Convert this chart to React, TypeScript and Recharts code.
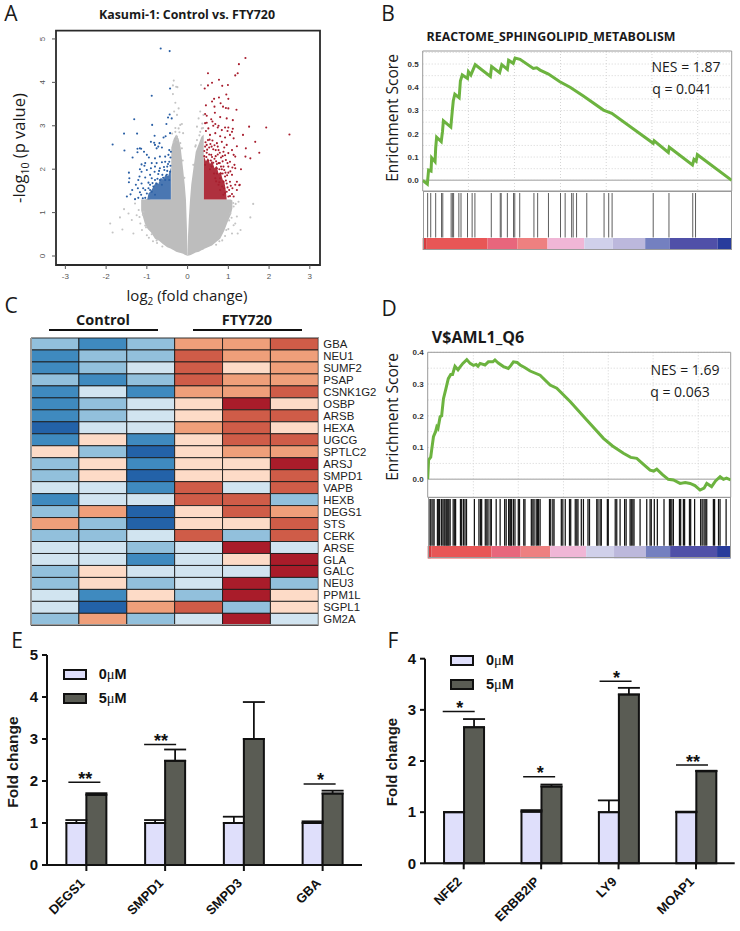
import React from 'react';
import {
  Area, Bar, BarChart, CartesianGrid, Cell, ComposedChart, ErrorBar, Legend, Line, LineChart,
  ReferenceArea, ReferenceLine, Scatter, XAxis, YAxis,
} from 'recharts';

const SANS = '"Liberation Sans", Arial, sans-serif';
const OPEN = '"Open Sans", "Noto Sans", sans-serif';

// A: volcano. dense cloud is read as envelopes [x, low, high], sparse points as [x, y]
const grayLeft = [
  [-1.14, 1.05, 1.3], [-1.05, 0.75, 1.3], [-0.98, 0.62, 1.32], [-0.9, 0.55, 1.3], [-0.8, 0.4, 1.3],
  [-0.7, 0.35, 1.3], [-0.6, 0.27, 1.3], [-0.5, 0.2, 1.3], [-0.405, 0.17, 1.3], [-0.4, 0.16, 2.5],
  [-0.34, 0.13, 2.7], [-0.28, 0.1, 2.8], [-0.22, 0.08, 2.7], [-0.17, 0.07, 2.5], [-0.11, 0.05, 2.0],
  [-0.07, 0.03, 1.65], [-0.04, 0.02, 1.3], [-0.02, 0.01, 0.75], [-0.012, 0.005, 0.5], [0, 0, 0.02],
];
const grayRight = [
  [0, 0, 0.02], [0.012, 0.005, 0.5], [0.03, 0.01, 0.85], [0.06, 0.02, 1.3], [0.09, 0.03, 1.65],
  [0.14, 0.05, 2.0], [0.2, 0.08, 2.4], [0.28, 0.1, 2.6], [0.34, 0.13, 2.75], [0.395, 0.15, 2.8],
  [0.4, 0.16, 1.3], [0.5, 0.2, 1.3], [0.6, 0.24, 1.3], [0.7, 0.32, 1.3], [0.8, 0.4, 1.3],
  [0.9, 0.58, 1.3], [0.98, 0.78, 1.3], [1.06, 0.95, 1.3], [1.1, 1.1, 1.28],
];
const redDense = [
  [0.4, 1.3, 2.3], [0.45, 1.3, 2.18], [0.5, 1.3, 2.26], [0.55, 1.3, 2.12], [0.6, 1.3, 2.2], [0.66, 1.3, 2.02], [0.71, 1.3, 2.08],
  [0.76, 1.3, 1.9], [0.81, 1.3, 1.94], [0.86, 1.3, 1.76], [0.9, 1.3, 1.72], [0.94, 1.3, 1.5], [0.96, 1.3, 1.3],
];
const blueDense = [
  [-0.99, 1.3, 1.3], [-0.96, 1.3, 1.44], [-0.9, 1.3, 1.5], [-0.85, 1.3, 1.58], [-0.78, 1.3, 1.7], [-0.72, 1.3, 1.66], [-0.66, 1.3, 1.8],
  [-0.6, 1.3, 1.76], [-0.54, 1.3, 1.88], [-0.48, 1.3, 1.84], [-0.41, 1.3, 2.04],
];
const grayPoints = [
  [-0.34, 4.04], [-0.28, 3.9], [-0.36, 3.93], [-0.25, 3.89], [-0.36, 3.73], [-0.3, 3.53], [-0.22, 3.4], [-0.33, 3.33],
  [-0.26, 3.25], [-0.18, 3.02], [-0.14, 3.04], [-0.22, 2.94], [-0.3, 2.86], [-0.11, 2.83], [-0.26, 2.67], [-0.34, 2.63],
  [-0.18, 2.6], [-0.14, 2.48], [-0.26, 2.75], [0.33, 3.94], [0.31, 3.33], [0.39, 3.25], [0.23, 2.98], [0.31, 2.86],
  [0.35, 2.94], [0.27, 3.17], [0.23, 2.67], [0.19, 2.52], [0.36, 3.05], [-1.9, 0.75], [-1.84, 0.54], [-1.66, 0.89],
  [-1.56, 1.08], [-1.6, 0.61], [-1.45, 0.98], [-1.37, 0.83], [-1.33, 0.52], [-1.25, 0.94], [-1.16, 0.75], [-1.12, 0.6],
  [-1.2, 1.06], [-1.08, 1.02], [-1.0, 0.48], [-1.04, 0.7], [-1.29, 1.21], [-0.95, 0.42], [-0.85, 0.34], [-1.18, 0.9],
  [1.61, 1.2], [1.54, 0.89], [1.25, 1.25], [1.13, 1.14], [1.21, 0.91], [1.3, 0.6], [1.17, 0.75], [1.09, 0.52], [1.23, 0.52],
  [1.05, 0.98], [1.13, 0.71], [0.92, 0.46], [1.0, 0.62], [1.18, 1.2], [0.85, 0.36], [-0.75, 0.3], [0.7, 0.26], [-0.62, 0.22],
  [-0.3, 2.95], [-0.38, 2.82], [-0.2, 2.85], [-0.12, 2.2], [-0.08, 1.8], [-1.1, 0.95], [-1.02, 0.66], [-0.88, 0.5], [-0.76, 0.36],
  [0.14, 2.1], [0.2, 2.55], [0.38, 2.95], [0.29, 2.78], [1.02, 0.82], [1.08, 0.88], [0.95, 0.6], [0.78, 0.34], [1.12, 1.22],
];
const bluePoints = [
  [-0.66, 4.78], [-0.44, 4.72], [-0.43, 3.86], [-0.88, 3.69], [-1.31, 3.15], [-1.56, 2.82], [-1.24, 2.82], [-0.87, 3.02],
  [-1.84, 2.57], [-1.55, 2.43], [-0.44, 3.26], [-0.48, 3.19], [-0.52, 3.04], [-0.39, 3.17], [-0.43, 2.83], [-0.54, 2.76],
  [-0.59, 2.73], [-0.81, 2.77], [-1.17, 2.48], [-1.23, 2.47], [-1.14, 2.47], [-1.35, 2.27], [-1.23, 2.39], [-1.07, 2.4],
  [-1.0, 2.33], [-0.95, 2.27], [-0.76, 2.48], [-0.72, 2.52], [-0.8, 2.56], [-0.9, 2.63], [-0.82, 2.61], [-0.69, 2.6],
  [-0.63, 2.5], [-0.45, 2.44], [-0.41, 2.4], [-0.47, 2.33], [-0.55, 2.29], [-0.42, 2.27], [-0.68, 2.29], [-0.8, 2.25],
  [-0.76, 2.14], [-0.88, 2.14], [-1.04, 2.14], [-1.13, 2.11], [-1.17, 2.0], [-1.06, 2.08], [-0.55, 2.17], [-0.45, 2.17],
  [-0.63, 2.16], [-0.5, 2.06], [-0.42, 2.08], [-0.57, 1.98], [-0.68, 2.02], [-0.8, 2.06], [-0.9, 2.02], [-1.0, 1.98],
  [-1.13, 1.94], [-1.18, 1.83], [-1.44, 1.92], [-1.43, 1.79], [-1.44, 1.7], [-1.21, 1.75], [-1.27, 1.64], [-1.36, 1.52],
  [-1.22, 1.56], [-1.13, 1.67], [-1.04, 1.81], [-0.92, 1.87], [-0.81, 1.94], [-0.72, 1.89], [-0.62, 1.87], [-0.51, 1.87],
  [-0.43, 1.94], [-0.96, 1.69], [-1.09, 1.56], [-1.17, 1.47], [-1.4, 1.42], [-1.49, 1.37], [-1.29, 1.31], [-1.21, 1.34],
  [-1.0, 1.44], [-1.04, 1.34], [-0.88, 1.79], [-0.8, 1.75], [-0.68, 1.75], [-0.55, 1.75], [-0.45, 1.75], [-0.92, 1.64],
  [-0.84, 1.6], [-0.76, 1.67], [-0.63, 1.64], [-0.96, 1.56], [-0.88, 1.48], [-0.8, 1.41], [-1.04, 1.52], [-1.14, 1.41],
  [-0.74, 1.78], [-0.6, 1.8], [-0.5, 1.96], [-0.58, 2.05], [-0.86, 1.68], [-0.92, 1.52], [-1.1, 1.33], [-0.7, 1.96], [-0.48, 2.12],
];
const redPoints = [
  [1.42, 4.56], [1.26, 4.42], [1.23, 4.21], [1.17, 4.16], [0.5, 4.21], [0.77, 4.06], [0.6, 3.99], [0.5, 3.93], [0.42, 3.86],
  [0.85, 3.92], [0.99, 3.94], [0.95, 3.72], [1.0, 3.62], [0.77, 3.65], [0.65, 3.62], [0.6, 3.56], [0.81, 3.52], [0.45, 3.47],
  [0.66, 3.44], [0.87, 3.44], [0.94, 3.41], [1.0, 3.4], [1.2, 3.37], [0.67, 3.3], [0.43, 3.27], [0.47, 3.23], [0.8, 3.2],
  [0.96, 3.17], [1.11, 3.13], [0.58, 3.15], [0.61, 3.1], [0.47, 3.07], [0.43, 3.06], [0.68, 3.04], [0.76, 3.0], [0.92, 2.96],
  [1.11, 2.93], [0.98, 2.88], [1.51, 2.98], [1.93, 2.96], [2.5, 2.8], [1.36, 2.79], [1.66, 2.63], [1.76, 2.38], [1.43, 2.48],
  [1.42, 2.29], [1.54, 2.25], [1.31, 2.0], [1.27, 1.63], [0.51, 2.94], [0.63, 3.0], [0.74, 2.96], [0.84, 2.9], [1.0, 2.96],
  [1.09, 2.86], [0.45, 2.88], [0.55, 2.79], [0.68, 2.83], [0.8, 2.76], [0.92, 2.73], [1.04, 2.79], [1.13, 2.71], [0.5, 2.67],
  [0.61, 2.66], [0.72, 2.6], [0.84, 2.63], [0.96, 2.56], [1.21, 2.53], [1.09, 2.44], [0.43, 2.52], [0.53, 2.5], [0.63, 2.46],
  [0.76, 2.44], [0.88, 2.4], [1.0, 2.37], [1.13, 2.33], [1.17, 2.29], [0.47, 2.38], [0.58, 2.33], [0.69, 2.3], [0.82, 2.27],
  [0.94, 2.21], [1.04, 2.17], [1.15, 2.1], [0.51, 2.2], [0.63, 2.15], [0.76, 2.14], [0.88, 2.06], [1.0, 2.06], [1.1, 2.04],
  [1.17, 2.02], [1.0, 1.92], [1.09, 1.87], [0.92, 1.83], [1.21, 1.71], [1.17, 1.64], [1.28, 1.64], [1.04, 1.71], [0.96, 1.67],
  [1.1, 1.56], [1.21, 1.52], [1.02, 1.52], [1.09, 1.43], [1.13, 1.37], [1.0, 1.37], [0.88, 1.71], [0.82, 1.9], [0.8, 1.79],
  [0.72, 2.02], [0.59, 2.06], [0.43, 2.1], [0.96, 1.48], [0.9, 1.56], [0.88, 1.41], [0.8, 1.52], [0.76, 1.64], [0.68, 1.79],
  [0.72, 1.9], [0.9, 1.98], [0.82, 2.06], [0.65, 1.9], [0.55, 2.0], [0.78, 1.7], [0.85, 1.6], [0.92, 1.45], [0.7, 1.72],
  [0.44, 2.62], [0.48, 2.45], [0.56, 2.58], [0.66, 2.55], [0.74, 2.34], [0.86, 2.18], [0.92, 2.32], [0.98, 2.14], [0.97, 1.86],
  [0.86, 1.9], [1.05, 1.95], [0.6, 2.28], [0.7, 2.18], [0.78, 2.0], [0.94, 1.74], [1.06, 1.62], [0.98, 1.58], [1.04, 1.38],
  [0.41, 2.3], [0.46, 2.28], [0.53, 2.34], [0.57, 2.2], [0.66, 2.24], [0.72, 2.12], [0.79, 2.14], [0.84, 2.0], [0.93, 1.92],
  [0.41, 2.42], [0.47, 2.56], [0.54, 2.68], [0.59, 2.52], [0.69, 2.44], [0.74, 2.52], [0.9, 2.5], [0.79, 2.38], [0.86, 2.3],
];

// B: running enrichment score [rank %, ES]
const curveB = [
  [0, 0], [1.5, -0.016], [1.9, 0.044], [2.7, 0.04], [2.9, 0.097], [4.0, 0.08], [4.2, 0.138], [4.5, 0.185], [6.0, 0.166],
  [6.4, 0.209], [6.7, 0.256], [9.1, 0.229], [9.6, 0.302], [9.9, 0.342], [10.4, 0.37], [11.8, 0.355], [12.2, 0.427],
  [12.8, 0.453], [14.5, 0.438], [14.8, 0.467], [15.6, 0.453], [17.0, 0.497], [21.9, 0.447], [22.3, 0.489], [24.9, 0.463],
  [25.6, 0.497], [27.4, 0.477], [27.8, 0.516], [29.3, 0.503], [29.9, 0.526], [31.5, 0.52], [35.8, 0.481], [36.9, 0.484],
  [38.0, 0.474], [40.7, 0.457], [44.4, 0.424], [47.7, 0.4], [52.0, 0.362], [58.5, 0.302], [61.2, 0.288], [74.6, 0.159],
  [74.9, 0.17], [79.5, 0.12], [79.8, 0.142], [87.3, 0.066], [87.8, 0.09], [88.5, 0.082], [88.9, 0.11], [100, 0],
];
const hitsB = [
  1.6, 2.6, 4.2, 6.1, 6.5, 9.2, 9.6, 10.0, 11.7, 12.4, 14.5, 16.0, 16.9, 22.2, 25.1, 25.4, 27.4, 29.4, 29.8, 31.4, 36.0, 37.2,
  40.7, 44.6, 46.1, 48.2, 48.7, 49.8, 53.1, 58.7, 60.2, 61.3, 74.6, 79.7, 87.4, 88.3,
];
// D
const curveD = [
  [0, 0], [0.3, 0.061], [1.0, 0.07], [1.3, 0.092], [1.9, 0.134], [2.6, 0.15], [3.0, 0.165], [3.4, 0.16], [4.1, 0.197], [4.6, 0.2], [5.2, 0.254],
  [6.0, 0.285], [6.8, 0.317], [7.6, 0.33], [8.2, 0.33], [9.0, 0.356], [10.0, 0.345], [10.7, 0.354], [11.6, 0.365], [12.9, 0.377],
  [14.0, 0.365], [15.1, 0.359], [16.0, 0.362], [16.6, 0.356], [17.3, 0.365], [18.9, 0.36], [20.0, 0.37], [21.5, 0.37], [22.2, 0.376],
  [23.3, 0.366], [25.0, 0.355], [26.6, 0.349], [27.4, 0.358], [28.3, 0.37], [29.5, 0.368], [30.5, 0.36], [32.0, 0.352], [33.8, 0.341],
  [37.1, 0.328], [40.4, 0.297], [42.6, 0.287], [47.0, 0.245], [52.5, 0.187],
  [58.0, 0.129], [61.0, 0.105], [64.6, 0.082], [67.0, 0.069], [69.0, 0.066], [71.5, 0.045], [73.4, 0.029], [74.6, 0.026], [75.6, 0.032], [77.5, 0.015],
  [79.4, 0], [81.1, -0.002], [83.3, -0.013], [85.0, -0.01], [86.6, -0.013], [88.2, -0.02], [89.9, -0.034], [91.2, -0.028], [92.1, -0.013],
  [93.7, -0.023], [95.0, -0.005], [96.5, 0.008], [97.6, 0], [98.6, 0.004], [100, -0.002],
];
const hitsD = [
  0.3, 0.8, 1.1, 1.7, 2.1, 3.2, 3.5, 3.9, 4.5, 5, 5.4, 5.7, 6.1, 6.4, 6.7, 7, 7.4, 8.4, 8.9, 9.2, 10.8, 11.2, 11.8, 12.3, 12.8,
  15.4, 16.9, 17.4, 17.8, 19, 19.5, 19.9, 20.6, 21, 22.6, 23.9, 25.4, 25.9, 26.7, 27.1, 27.4, 27.7, 28.3, 28.8, 29.9, 30.3,
  31.7, 32.1, 34.2, 34.7, 35.1, 35.8, 36.2, 36.6, 37.1, 40.2, 40.6, 41.3, 41.7, 44.1, 44.6, 45.4, 46.8, 47.2, 48.7, 49.2, 49.6,
  50.7, 51.4, 52.9, 53.4, 55.8, 56.2, 56.9, 57.3, 59.3, 59.6, 61.9, 62.4, 63.5, 65, 65.5, 66.8, 67.2, 67.7, 68.1, 70.1, 72.3,
  73.4, 73.8, 74.8, 75.8, 78, 79.8, 80.2, 80.6, 81.1, 83.1, 83.5, 84.4, 84.8, 86.4, 86.8, 88.1, 90.1, 90.6, 91.2, 91.6, 92.1,
  94.3, 94.7, 96, 96.5, 98.5,
];
const stripStops = [0, 1.3, 21, 30.7, 40.4, 52.3, 61.5, 72, 80, 95.5, 100];
const stripColors = ['#d63c40', '#e85656', '#e8667c', '#ee8080', '#f0b6d6', '#d0d0ea', '#bcb8dc', '#7480c0', '#5050a8', '#283c9c'];

// C: heatmap, each cell is an index in heatColors
const heatGenes = [
  'GBA', 'NEU1', 'SUMF2', 'PSAP', 'CSNK1G2', 'OSBP', 'ARSB', 'HEXA', 'UGCG', 'SPTLC2', 'ARSJ', 'SMPD1', 'VAPB', 'HEXB',
  'DEGS1', 'STS', 'CERK', 'ARSE', 'GLA', 'GALC', 'NEU3', 'PPM1L', 'SGPL1', 'GM2A',
];
const heatColors = ['#2362a8', '#3f8abf', '#92c0dc', '#d1e4f0', '#fddbc7', '#ef9f7a', '#cf5c48', '#a91c2a'];
const control1 = [2, 1, 1, 2, 1, 1, 1, 0, 1, 4, 2, 2, 3, 1, 2, 5, 2, 3, 3, 2, 2, 3, 3, 2];
const control2 = [1, 2, 2, 1, 3, 2, 2, 3, 4, 2, 4, 4, 3, 3, 5, 2, 2, 3, 3, 4, 4, 1, 0, 5];
const control3 = [2, 2, 3, 2, 1, 3, 3, 3, 1, 0, 1, 0, 1, 3, 0, 0, 3, 2, 1, 3, 2, 4, 5, 2];
const fty1 = [5, 6, 6, 6, 5, 4, 4, 5, 4, 4, 4, 4, 6, 6, 4, 4, 6, 3, 3, 3, 3, 2, 6, 3];
const fty2 = [5, 5, 4, 5, 5, 7, 6, 6, 6, 5, 4, 4, 3, 6, 6, 4, 2, 7, 4, 3, 7, 7, 2, 7];
const fty3 = [6, 5, 5, 5, 6, 4, 6, 4, 6, 5, 7, 6, 6, 2, 5, 6, 6, 3, 7, 7, 2, 4, 4, 3];
const heatColumns = [control1, control2, control3, fty1, fty2, fty3];

// E, F: bars
const seriesNames = ['0', '5'];
const genesE = ['DEGS1', 'SMPD1', 'SMPD3', 'GBA'];
const lowE = [1, 1, 1, 1];
const lowErrE = [0.07, 0.07, 0.15, 0.04];
const highE = [1.67, 2.48, 3.0, 1.7];
const highErrE = [0.04, 0.27, 0.88, 0.07];
const sigE = [1.97, 2.87, null, 1.93];
const starsE = ['**', '**', '', '*'];
const genesF = ['NFE2', 'ERBB2IP', 'LY9', 'MOAP1'];
const lowF = [1, 1.01, 1, 1];
const lowErrF = [0, 0.03, 0.23, 0.01];
const highF = [2.66, 1.5, 3.3, 1.8];
const highErrF = [0.16, 0.04, 0.13, 0.01];
const sigF = [2.97, 1.69, 3.56, 1.92];
const starsF = ['*', '*', '*', '**'];

const LOW_FILL = '#dfdffb';
const HIGH_FILL = '#5a5c54';

const pts = (list: number[][]) => list.map(([x, y]) => ({ x, y }));
const band = (list: number[][]) => list.map(([x, lo, hi]) => ({ x, range: [lo, hi] }));

const Txt = ({ x, y, children, size = 14, weight = 400, font = OPEN, rotate = 0, color = '#1a1a1a' }: any) => (
  <span
    style={{
      position: 'absolute', left: x, top: y, transform: `translate(-50%,-50%) rotate(${rotate}deg)`,
      fontFamily: font, fontSize: size, fontWeight: weight, color, whiteSpace: 'nowrap', lineHeight: 1,
    }}
  >
    {children}
  </span>
);

const Dot = (color: string) => (p: any) => <circle cx={p.cx} cy={p.cy} r={1.05} fill={color} />;

const VolcanoY = (p: any) => (
  <text
    x={p.x} y={p.y} textAnchor="middle" fontSize={8} fill="#555" fontFamily={SANS}
    transform={`rotate(-90 ${p.x} ${p.y})`}
  >
    {p.payload.value}
  </text>
);

function Volcano() {
  return (
    <div style={{ position: 'absolute', left: 0, top: 0 }}>
      <ComposedChart width={330} height={290} margin={{ top: 30.7, right: 10, bottom: 0, left: 0 }}>
        <XAxis
          type="number" dataKey="x" domain={[-3.23, 3.25]} allowDataOverflow ticks={[-3, -2, -1, 0, 1, 2, 3]} interval={0}
          height={25} axisLine={false} tickSize={4} tickMargin={4} tickLine={{ stroke: '#555' }}
          tick={{ fontSize: 8, fill: '#555', fontFamily: SANS }}
        />
        <YAxis
          type="number" dataKey="y" domain={[-0.207, 5.19]} allowDataOverflow ticks={[0, 1, 2, 3, 4, 5]} interval={0}
          width={56} axisLine={false} tickSize={4} tickMargin={7} tickLine={{ stroke: '#555' }} tick={<VolcanoY />}
        />
        <Area data={band(grayLeft)} dataKey="range" stroke="none" fill="#bdbdbd" fillOpacity={1} isAnimationActive={false} dot={false} activeDot={false} />
        <Area data={band(grayRight)} dataKey="range" stroke="none" fill="#bdbdbd" fillOpacity={1} isAnimationActive={false} dot={false} activeDot={false} />
        <Scatter data={pts(grayPoints)} shape={Dot('#c4c4c4')} isAnimationActive={false} />
        <Area data={band(blueDense)} dataKey="range" stroke="none" fill="#2a5fa5" fillOpacity={0.85} isAnimationActive={false} dot={false} activeDot={false} />
        <Area data={band(redDense)} dataKey="range" stroke="none" fill="#a81e2e" fillOpacity={0.92} isAnimationActive={false} dot={false} activeDot={false} />
        <Scatter data={pts(bluePoints)} shape={Dot('#2a5fa5')} isAnimationActive={false} />
        <Scatter data={pts(redPoints)} shape={Dot('#a81e2e')} isAnimationActive={false} />
        <ReferenceArea x1={-3.23} x2={3.25} y1={-0.207} y2={5.19} fill="none" stroke="#2a2a2a" strokeWidth={1.8} />
      </ComposedChart>
    </div>
  );
}

const stripEnds = [{ x: 0, y: 0 }, { x: 100, y: 1 }];

function Gsea({ left, top, width, height, yWidth, marginTop, domain, ticks, grid, vgrid, curve, hits, hitsH, hitColor, hitWidth }: any) {
  const rows = curve.map(([x, y]: number[]) => ({ x, y }));
  const plotTop = top + height - 1;
  return (
    <>
      <div style={{ position: 'absolute', left, top }}>
        <LineChart width={width} height={height} data={rows} margin={{ top: marginTop, right: 1, bottom: 1, left: 0 }}>
          <CartesianGrid stroke="#d4d4d4" strokeDasharray="1 2" horizontalValues={grid} verticalValues={vgrid} />
          <XAxis type="number" dataKey="x" domain={[0, 100]} hide allowDataOverflow />
          <YAxis
            type="number" domain={domain} ticks={ticks} interval={0} allowDataOverflow width={yWidth} axisLine={false} tickLine={false}
            tickSize={0} tickMargin={4} tickFormatter={(v: number) => v.toFixed(1)}
            tick={{ fontSize: 8, fontWeight: 700, fill: '#333', fontFamily: SANS }}
          />
          <ReferenceLine y={0} stroke="#bdbdbd" strokeWidth={1.5} />
          <Line dataKey="y" stroke="#6cb33f" strokeWidth={3} dot={false} isAnimationActive={false} />
          <ReferenceArea x1={0} x2={100} y1={domain[0]} y2={domain[1]} fill="none" stroke="#9a9a9a" />
        </LineChart>
      </div>
      <div style={{ position: 'absolute', left, top: plotTop }}>
        <LineChart width={width} height={hitsH} data={stripEnds} margin={{ top: 2, right: 1, bottom: 0, left: 0 }}>
          <XAxis type="number" dataKey="x" domain={[0, 100]} hide allowDataOverflow />
          <YAxis type="number" dataKey="y" domain={[0, 1]} width={yWidth} tick={false} axisLine={false} tickLine={false} />
          <Line dataKey="y" stroke="none" dot={false} activeDot={false} isAnimationActive={false} />
          {hits.map((h: number) => <ReferenceLine key={h} x={h} stroke={hitColor} strokeWidth={hitWidth} />)}
        </LineChart>
      </div>
      <div style={{ position: 'absolute', left, top: plotTop + hitsH }}>
        <LineChart width={width} height={12.5} data={stripEnds} margin={{ top: 0, right: 1, bottom: 0, left: 0 }}>
          <XAxis type="number" dataKey="x" domain={[0, 100]} hide allowDataOverflow />
          <YAxis type="number" dataKey="y" domain={[0, 1]} width={yWidth} tick={false} axisLine={false} tickLine={false} />
          <Line dataKey="y" stroke="none" dot={false} activeDot={false} isAnimationActive={false} />
          {stripColors.map((c, i) => (
            <ReferenceArea key={c} x1={stripStops[i]} x2={stripStops[i + 1]} y1={0} y2={1} fill={c} fillOpacity={1} stroke="none" />
          ))}
        </LineChart>
      </div>
      <div
        style={{
          position: 'absolute', left: left + yWidth, top: plotTop, width: width - yWidth - 1, height: hitsH + 12.5,
          border: '1px solid #9a9a9a', boxSizing: 'border-box', pointerEvents: 'none',
        }}
      />
    </>
  );
}

function Heatmap() {
  const rows = heatGenes.map((gene) => ({ gene, c0: 1, c1: 1, c2: 1, c3: 1, c4: 1, c5: 1 }));
  return (
    <div style={{ position: 'absolute', left: 30, top: 336.7 }}>
      <BarChart width={354} height={289.3} data={rows} layout="vertical" barCategoryGap={0} margin={{ top: 1, right: 0, bottom: 1, left: 1 }}>
        <XAxis type="number" domain={[0, 6]} hide />
        <YAxis
          type="category" dataKey="gene" orientation="right" width={65.7} axisLine={false} tickLine={false} tickSize={0} tickMargin={5} interval={0}
          tick={{ fontSize: 11.4, fill: '#222', fontFamily: SANS, textAnchor: 'start' }}
        />
        {heatColumns.map((col, i) => (
          <Bar key={i} dataKey={`c${i}`} stackId="heat" stroke="#1c1c1c" strokeWidth={0.9} isAnimationActive={false}>
            {col.map((lvl, j) => <Cell key={j} fill={heatColors[lvl]} />)}
          </Bar>
        ))}
      </BarChart>
      <div style={{ position: 'absolute', left: 0.5, top: 0.5, width: 288.3, height: 288.3, border: '1px solid #999', boxSizing: 'border-box', pointerEvents: 'none' }} />
    </div>
  );
}

const GeneTick = (p: any) => (
  <text
    x={p.x - 1} y={p.y + 13} textAnchor="end" fontSize={13} fontWeight={700} fill="#111" fontFamily={SANS}
    transform={`rotate(-45 ${p.x - 1} ${p.y + 13})`}
  >
    {p.payload.value}
  </text>
);

const sigMark = (stars: string[], shifts: number[], half: number) => (p: any) => {
  if (p.value == null || !stars[p.index]) return <g key={p.index} />;
  const mid = p.cx + shifts[p.index];
  return (
    <g key={p.index}>
      <line x1={mid - half} x2={mid + half} y1={p.cy} y2={p.cy} stroke="#111" strokeWidth={1.5} />
      <text x={mid + 1} y={p.cy + 2.5} textAnchor="middle" fontSize={18} fontWeight={700} fill="#111" fontFamily={SANS}>{stars[p.index]}</text>
    </g>
  );
};

const FoldLegend = (left: number, top: number) => () => (
  <div style={{ position: 'absolute', left, top }}>
    {seriesNames.map((n, i) => (
      <div key={n} style={{ position: 'absolute', left: 0, top: i * 23.7, display: 'flex', alignItems: 'center', height: 11 }}>
        <span style={{ display: 'inline-block', width: 24, height: 11, boxSizing: 'border-box', border: '2px solid #111', background: i ? HIGH_FILL : LOW_FILL }} />
        <span style={{ marginLeft: 12, fontFamily: SANS, fontWeight: 700, fontSize: 14.5, color: '#111', whiteSpace: 'nowrap' }}>
          {n}<span style={{ fontFamily: '"Liberation Serif", serif', fontWeight: 400 }}>μ</span>M
        </span>
      </div>
    ))}
  </div>
);

function FoldChart({ left, top, width, height, marginTop, marginRight, yWidth, xHeight, yMax, genes, low, lowErr, high, highErr, sig, stars, shifts, legendAt }: any) {
  const rows = genes.map((gene: string, i: number) => ({
    gene, low: low[i], lowE: [0, lowErr[i]], high: high[i], highE: [0, highErr[i]], sig: sig[i],
  }));
  const ticks = Array.from({ length: yMax + 1 }, (_, i) => i);
  return (
    <div style={{ position: 'absolute', left, top }}>
      <ComposedChart
        width={width} height={height} data={rows} barCategoryGap="24.6%" barGap={0}
        margin={{ top: marginTop, right: marginRight, bottom: 0, left: 0 }}
      >
        <XAxis
          dataKey="gene" height={xHeight} interval={0} tickSize={6} tickMargin={0} tick={<GeneTick />}
          axisLine={{ stroke: '#111', strokeWidth: 2 }} tickLine={{ stroke: '#111', strokeWidth: 2 }}
        />
        <YAxis
          domain={[0, yMax]} ticks={ticks} interval={0} width={yWidth} tickSize={5} tickMargin={4}
          axisLine={{ stroke: '#111', strokeWidth: 2 }} tickLine={{ stroke: '#111', strokeWidth: 2 }}
          tick={{ fontSize: 15, fontWeight: 700, fill: '#111', fontFamily: SANS }}
        />
        <Bar dataKey="low" fill={LOW_FILL} stroke="#111" strokeWidth={2} isAnimationActive={false}>
          <ErrorBar dataKey="lowE" width={11} stroke="#111" strokeWidth={1.8} direction="y" isAnimationActive={false} />
        </Bar>
        <Bar dataKey="high" fill={HIGH_FILL} stroke="#111" strokeWidth={2} isAnimationActive={false}>
          <ErrorBar dataKey="highE" width={11} stroke="#111" strokeWidth={1.8} direction="y" isAnimationActive={false} />
        </Bar>
        <Line dataKey="sig" stroke="none" legendType="none" dot={sigMark(stars, shifts, 16)} activeDot={false} isAnimationActive={false} />
        <Legend layout="vertical" align="center" verticalAlign="middle" wrapperStyle={{ position: 'absolute', left: 0, top: 0, width: 0, height: 0 }} content={FoldLegend(legendAt[0], legendAt[1])} />
      </ComposedChart>
    </div>
  );
}

export default function App() {
  const grid05 = [0, 0.05, 0.1, 0.15, 0.2, 0.25, 0.3, 0.35, 0.4, 0.45, 0.5, 0.55];
  const grid04 = [0, 0.05, 0.1, 0.15, 0.2, 0.25, 0.3, 0.35, 0.4];
  return (
    <div style={{ position: 'absolute', left: 0, top: 0, width: 740, height: 931, background: '#fff', overflow: 'hidden' }}>
      <Volcano />
      <Txt x={187} y={15} size={12.4} weight={700}>Kasumi-1: Control vs. FTY720</Txt>
      <Txt x={187} y={297} size={15}>log<sub style={{ fontSize: 10 }}>2</sub> (fold change)</Txt>
      <Txt x={21} y={148} size={16.5} rotate={-90}>-log<sub style={{ fontSize: 10.5 }}>10</sub> (p value)</Txt>

      <Gsea
        left={400} top={45} width={332.7} height={147} yWidth={22.7} marginTop={6} domain={[-0.046, 0.556]}
        ticks={[0, 0.1, 0.2, 0.3, 0.4, 0.5]} grid={grid05} vgrid={[14.8, 29.7, 44.6, 59.4, 74.2, 89]}
        curve={curveB} hits={hitsB} hitsH={46.5} hitColor="#5c5c5c" hitWidth={1}
      />
      <Txt x={551} y={37} size={12.4} weight={700}>REACTOME_SPHINGOLIPID_METABOLISM</Txt>
      <Txt x={393} y={118} size={15.5} rotate={-90}>Enrichment Score</Txt>
      <Txt x={686} y={67} size={14}>NES = 1.87</Txt>
      <Txt x={682} y={89} size={14}>q = 0.041</Txt>

      <Heatmap />
      <Txt x={103} y={320} size={14.5} weight={700}>Control</Txt>
      <Txt x={247} y={320} size={14.5} weight={700}>FTY720</Txt>
      <div style={{ position: 'absolute', left: 49, top: 328.5, width: 109, height: 2, background: '#111' }} />
      <div style={{ position: 'absolute', left: 192.7, top: 328.5, width: 109, height: 2, background: '#111' }} />

      <Gsea
        left={400} top={345} width={331.7} height={153.3} yWidth={27.7} marginTop={7.3} domain={[-0.0567, 0.4]}
        ticks={[0, 0.1, 0.2, 0.3, 0.4]} grid={grid04} vgrid={[15.07, 29.9, 44.8, 59.6, 74.4, 89.3]}
        curve={curveD} hits={hitsD} hitsH={48.7} hitColor="#141414" hitWidth={1.25}
      />
      <Txt x={478} y={337} size={16} weight={700}>V$AML1_Q6</Txt>
      <Txt x={393} y={417} size={15.5} rotate={-90}>Enrichment Score</Txt>
      <Txt x={685} y={370} size={14}>NES = 1.69</Txt>
      <Txt x={680} y={392} size={14}>q = 0.063</Txt>

      <FoldChart
        left={0} top={640} width={370} height={291} marginTop={15} marginRight={8} yWidth={47} xHeight={66} yMax={5}
        genes={genesE} low={lowE} lowErr={lowErrE} high={highE} highErr={highErrE} sig={sigE} stars={starsE}
        shifts={[-2, -5, 0, -3]} legendAt={[62.7, 29]}
      />
      <Txt x={13} y={762} size={15.5} weight={700} font={SANS} rotate={-90}>Fold change</Txt>

      <FoldChart
        left={370} top={640} width={370} height={291} marginTop={18.7} marginRight={5.3} yWidth={55} xHeight={67.7} yMax={4}
        genes={genesF} low={lowF} lowErr={lowErrF} high={highF} highErr={highErrF} sig={sigF} stars={starsF}
        shifts={[-5, -2, -3, -4]} legendAt={[80, 15]}
      />
      <Txt x={391} y={762} size={15} weight={700} font={SANS} rotate={-90}>Fold change</Txt>

      <Txt x={11} y={13} size={21}>A</Txt>
      <Txt x={388} y={13} size={21}>B</Txt>
      <Txt x={11} y={305} size={21}>C</Txt>
      <Txt x={389} y={308} size={21}>D</Txt>
      <Txt x={17} y={640} size={21}>E</Txt>
      <Txt x={393} y={640} size={21}>F</Txt>
    </div>
  );
}
